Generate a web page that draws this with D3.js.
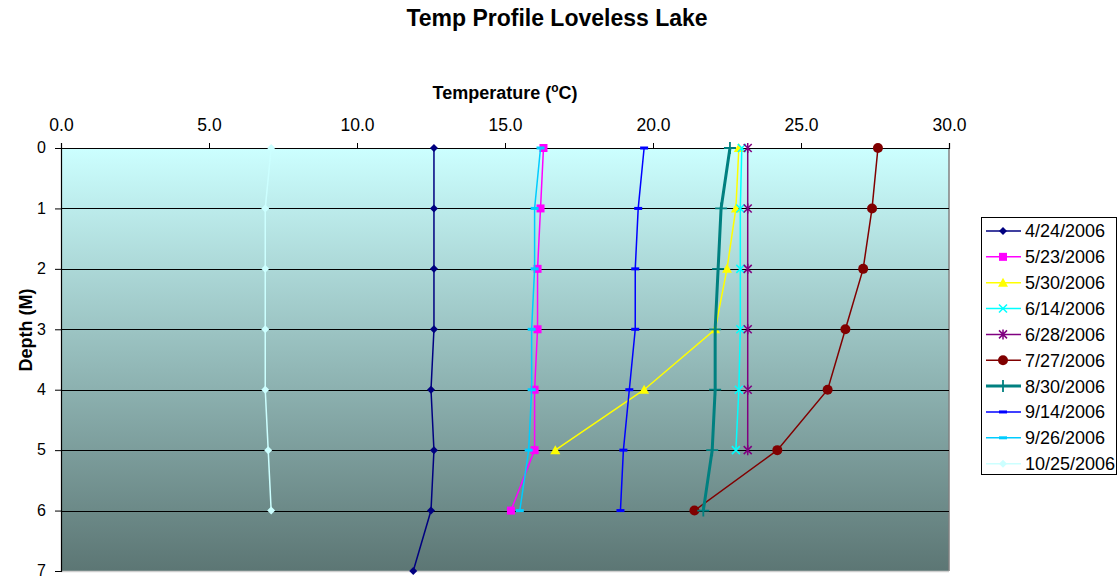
<!DOCTYPE html>
<html>
<head>
<meta charset="utf-8">
<script src="https://cdn.jsdelivr.net/npm/d3@7"></script>
<style>
  body { margin: 0; background: #fff; }
  svg { display: block; font-family: Arial, "Liberation Sans", sans-serif; }
</style>
</head>
<body>
<svg id="chart" width="1117" height="579"></svg>
<script>
// Depth readings (metres) shared by every survey date
const depths = [0, 1, 2, 3, 4, 5, 6, 7];

// Survey dates, in legend order
const dates = ["4/24/2006", "5/23/2006", "5/30/2006", "6/14/2006", "6/28/2006",
               "7/27/2006", "8/30/2006", "9/14/2006", "9/26/2006", "10/25/2006"];

// Temperature (°C) at each depth, one array per survey date
const t0424 = [12.6, 12.6, 12.6, 12.6, 12.5, 12.6, 12.5, 11.9];
const t0523 = [16.3, 16.2, 16.1, 16.1, 16.0, 16.0, 15.2];
const t0530 = [22.9, 22.8, 22.5, 22.1, 19.7, 16.7];
const t0614 = [23.0, 22.95, 22.95, 22.95, 22.9, 22.8];
const t0628 = [23.2, 23.2, 23.2, 23.2, 23.2, 23.2];
const t0727 = [27.6, 27.4, 27.1, 26.5, 25.9, 24.2, 21.4];
const t0830 = [22.6, 22.3, 22.2, 22.1, 22.1, 22.0, 21.7];
const t0914 = [19.7, 19.5, 19.4, 19.4, 19.2, 19.0, 18.9];
const t0926 = [16.2, 16.0, 16.0, 15.9, 15.9, 15.8, 15.5];
const t1025 = [7.1, 6.9, 6.9, 6.9, 6.9, 7.0, 7.1];

const temps = [t0424, t0523, t0530, t0614, t0628, t0727, t0830, t0914, t0926, t1025];

// Axis tick values
const tempTicks = [0, 5, 10, 15, 20, 25, 30];
const depthTicks = [0, 1, 2, 3, 4, 5, 6, 7];

// Series styling
const styles = [
  { color: "#000080", marker: "diamond", width: 1.5 },
  { color: "#FF00FF", marker: "square",  width: 1.5 },
  { color: "#FFFF00", marker: "triangle", width: 1.5 },
  { color: "#00FFFF", marker: "x",       width: 1.5 },
  { color: "#800080", marker: "star",    width: 1.5 },
  { color: "#800000", marker: "circle",  width: 1.5 },
  { color: "#008080", marker: "plus",    width: 3 },
  { color: "#0000FF", marker: "dash",    width: 1.5 },
  { color: "#00CCFF", marker: "dash",    width: 1.5 },
  { color: "#CCFFFF", marker: "diamond", width: 1.5 }
];

const series = dates.map((d, i) => ({
  name: d,
  style: styles[i],
  points: temps[i].map((t, j) => ({ temp: t, depth: depths[j] }))
}));

const svg = d3.select("#chart");
const plot = { left: 61, right: 949, top: 148, bottom: 571 };
const FONT = "Arial, 'Liberation Sans', sans-serif";

const x = d3.scaleLinear().domain([0, 30]).range([plot.left, plot.right]);
const y = d3.scaleLinear().domain([0, 7]).range([plot.top, plot.bottom]);

// Background gradient: surface water light, deep water dark
const defs = svg.append("defs");
const grad = defs.append("linearGradient")
  .attr("id", "water").attr("x1", 0).attr("y1", 0).attr("x2", 0).attr("y2", 1);
grad.append("stop").attr("offset", "0%").attr("stop-color", "#CCFFFF");
grad.append("stop").attr("offset", "100%").attr("stop-color", "#5C7674");

svg.append("rect")
  .attr("x", plot.left).attr("y", plot.top)
  .attr("width", plot.right - plot.left).attr("height", plot.bottom - plot.top)
  .attr("fill", "url(#water)");

// Plot frame edges (right and bottom)
svg.append("line")
  .attr("x1", plot.right).attr("x2", plot.right)
  .attr("y1", plot.top).attr("y2", plot.bottom)
  .attr("stroke", "#808080").attr("stroke-width", 1.5);
svg.append("line")
  .attr("x1", plot.left).attr("x2", plot.right)
  .attr("y1", plot.bottom + 0.5).attr("y2", plot.bottom + 0.5)
  .attr("stroke", "#cfcfcf").attr("stroke-width", 1.5);

// Horizontal gridlines at each depth
svg.append("g")
  .selectAll("line")
  .data(depthTicks.filter(d => d > 0 && d < 7))
  .join("line")
  .attr("x1", plot.left).attr("x2", plot.right)
  .attr("y1", d => Math.round(y(d)) + 0.5).attr("y2", d => Math.round(y(d)) + 0.5)
  .attr("stroke", "#000").attr("stroke-width", 1);

// Top temperature axis
const xAxis = d3.axisTop(x)
  .tickValues(tempTicks)
  .tickFormat(d3.format(".1f"))
  .tickSize(5).tickPadding(12);
const gx = svg.append("g")
  .attr("transform", `translate(0,${plot.top})`)
  .call(xAxis);
gx.select(".domain").attr("stroke", "#000").attr("stroke-width", 1.2);
gx.selectAll(".tick line").attr("stroke", "#000");
gx.selectAll(".tick text").attr("font-size", 17.5).attr("fill", "#000")
  .attr("font-family", FONT);

// Left depth axis
const yAxis = d3.axisLeft(y)
  .tickValues(depthTicks)
  .tickFormat(d3.format("d"))
  .tickSize(6).tickPadding(9);
const gy = svg.append("g")
  .attr("transform", `translate(${plot.left},0)`)
  .call(yAxis);
gy.select(".domain").attr("stroke", "#000").attr("stroke-width", 1.2);
gy.selectAll(".tick line").attr("stroke", "#000");
gy.selectAll(".tick text").attr("font-size", 16).attr("fill", "#000")
  .attr("dy", "0.3em")
  .attr("font-family", FONT);

// Marker drawing
function drawMarker(sel, type, color, size) {
  const s = size;
  switch (type) {
    case "diamond":
      sel.append("path")
        .attr("d", `M0,${-s}L${s},0L0,${s}L${-s},0Z`)
        .attr("fill", color);
      break;
    case "square":
      sel.append("rect")
        .attr("x", -s).attr("y", -s).attr("width", 2 * s).attr("height", 2 * s)
        .attr("fill", color);
      break;
    case "triangle":
      sel.append("path")
        .attr("d", `M0,${-s - 1}L${s + 1},${s}L${-s - 1},${s}Z`)
        .attr("fill", color);
      break;
    case "x":
      sel.append("path")
        .attr("d", `M${-s},${-s}L${s},${s}M${-s},${s}L${s},${-s}`)
        .attr("stroke", color).attr("stroke-width", 1.5).attr("fill", "none");
      break;
    case "star":
      sel.append("path")
        .attr("d", `M${-s},${-s}L${s},${s}M${-s},${s}L${s},${-s}M0,${-s - 1}L0,${s + 1}`)
        .attr("stroke", color).attr("stroke-width", 1.5).attr("fill", "none");
      break;
    case "circle":
      sel.append("circle").attr("r", s + 1).attr("fill", color);
      break;
    case "plus":
      sel.append("path")
        .attr("d", `M${-s - 2},0L${s + 2},0M0,${-s - 2}L0,${s + 2}`)
        .attr("stroke", color).attr("stroke-width", 1.8).attr("fill", "none");
      break;
    case "dash":
      sel.append("rect")
        .attr("x", -s).attr("y", -1.5).attr("width", 2 * s).attr("height", 3)
        .attr("fill", color);
      break;
  }
}

const line = d3.line().x(d => x(d.temp)).y(d => y(d.depth));

// Series lines and markers
const sg = svg.append("g")
  .selectAll("g.series")
  .data(series)
  .join("g").attr("class", "series");

sg.append("path")
  .attr("d", d => line(d.points))
  .attr("fill", "none")
  .attr("stroke", d => d.style.color)
  .attr("stroke-width", d => d.style.width);

sg.each(function (d) {
  d3.select(this).selectAll("g.pt")
    .data(d.points)
    .join("g").attr("class", "pt")
    .attr("transform", p => `translate(${x(p.temp)},${y(p.depth)})`)
    .each(function () { drawMarker(d3.select(this), d.style.marker, d.style.color, 4); });
});

// Titles
svg.append("text")
  .attr("x", 557).attr("y", 26)
  .attr("text-anchor", "middle")
  .attr("font-size", 23).attr("font-weight", "bold")
  .text("Temp Profile Loveless Lake");

const tt = svg.append("text")
  .attr("x", 505).attr("y", 99)
  .attr("text-anchor", "middle")
  .attr("font-size", 18).attr("font-weight", "bold");
tt.append("tspan").text("Temperature (");
tt.append("tspan").attr("font-size", 12).attr("dy", -7).text("o");
tt.append("tspan").attr("dy", 7).text("C)");

svg.append("text")
  .attr("transform", "translate(32,330) rotate(-90)")
  .attr("text-anchor", "middle")
  .attr("font-size", 18).attr("font-weight", "bold")
  .text("Depth (M)");

// Legend
const legend = { x: 981, y: 217, w: 135, h: 257, row: 25.85 };
svg.append("rect")
  .attr("x", legend.x + 0.5).attr("y", legend.y + 0.5)
  .attr("width", legend.w).attr("height", legend.h)
  .attr("fill", "#fff").attr("stroke", "#000").attr("stroke-width", 1);

const li = svg.append("g")
  .selectAll("g.li")
  .data(series)
  .join("g").attr("class", "li")
  .attr("transform", (d, i) => `translate(${legend.x},${legend.y + 14 + i * legend.row})`);

li.append("line")
  .attr("x1", 5).attr("x2", 40)
  .attr("stroke", d => d.style.color)
  .attr("stroke-width", d => d.style.width);
li.each(function (d) {
  const g = d3.select(this).append("g").attr("transform", "translate(22,0)");
  drawMarker(g, d.style.marker, d.style.color, 4);
});
li.append("text")
  .attr("x", 44).attr("y", 0).attr("dy", "0.36em")
  .attr("font-size", 18)
  .text(d => d.name);
</script>
</body>
</html>
